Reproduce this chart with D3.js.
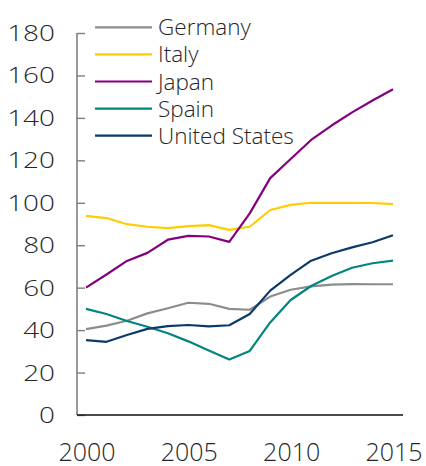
<!DOCTYPE html>
<html>
<head>
<meta charset="utf-8">
<script src="https://cdn.jsdelivr.net/npm/d3@7"></script>
<style>
  body { margin: 0; background: #fff; }
  text { font-family: "Open Sans", sans-serif; font-weight: 300; fill: #262626; }
</style>
</head>
<body>
<div id="chart"></div>
<script>
// data
var years = d3.range(2000, 2016);
var countries = ["Germany", "Italy", "Japan", "Spain", "United States"];
var colors = ["#8c8c8c", "#ffcc00", "#84007f", "#00857f", "#0a3a6a"];

var germany = [40.5, 42.1, 44.4, 47.9, 50.3, 52.9, 52.4, 50.0, 49.6, 55.8, 59.0, 60.6, 61.4, 61.7, 61.6, 61.6];
var italy   = [93.8, 92.8, 89.9, 88.7, 88.1, 89.0, 89.5, 87.2, 88.7, 96.6, 99.0, 100.0, 100.0, 100.0, 99.9, 99.4];
var japan   = [60.0, 66.2, 72.6, 76.4, 82.6, 84.4, 84.1, 81.6, 95.0, 111.6, 120.6, 129.6, 136.4, 142.6, 148.2, 153.5];
var spain   = [50.0, 47.6, 44.3, 41.6, 38.5, 34.7, 30.4, 26.2, 30.2, 43.6, 54.2, 60.8, 65.5, 69.4, 71.5, 72.7];
var usa     = [35.3, 34.5, 37.7, 40.6, 41.9, 42.4, 41.8, 42.3, 47.6, 58.6, 66.0, 72.7, 76.2, 79.0, 81.4, 84.7];

var yTicks = [0, 20, 40, 60, 80, 100, 120, 140, 160, 180];
var xTicks = [2000, 2005, 2010, 2015];

var series = [germany, italy, japan, spain, usa];

var width = 426, height = 466;

var svg = d3.select("#chart").append("svg")
    .attr("width", width)
    .attr("height", height);

var x = d3.scaleLinear().domain([2000, 2015]).range([86, 393]);
var y = d3.scaleLinear().domain([0, 180]).range([415, 33]);

// y axis: gray line with inward ticks
var yAxis = svg.append("g")
    .attr("transform", "translate(77,0)")
    .call(d3.axisRight(y).tickValues(yTicks).tickSize(8).tickFormat(""));
yAxis.select(".domain").attr("d", "M0," + y(180) + "V" + y(0)).attr("stroke", "#7f7f7f").attr("stroke-width", 1.6);
yAxis.selectAll(".tick line").attr("stroke", "#7f7f7f").attr("stroke-width", 1.4);

// y labels (stretched wide like the reference)
svg.append("g").selectAll("g")
    .data(yTicks)
    .enter().append("g")
    .attr("transform", d => "translate(55," + (y(d) + 8) + ") scale(1.27,1)")
    .append("text")
    .attr("text-anchor", "end")
    .style("font-size", "22px")
    .text(d => d);

// x axis: black baseline, no ticks
svg.append("line")
    .attr("x1", 77).attr("x2", 403)
    .attr("y1", y(0)).attr("y2", y(0))
    .attr("stroke", "#111").attr("stroke-width", 1.3);

svg.append("g").selectAll("text")
    .data(xTicks)
    .enter().append("text")
    .attr("x", d => x(d) + 1)
    .attr("y", 461)
    .attr("text-anchor", "middle")
    .style("font-size", "25px")
    .text(d => d);

// lines
var line = d3.line()
    .x((d, i) => x(years[i]))
    .y(d => y(d));

svg.append("g").selectAll("path")
    .data(series)
    .enter().append("path")
    .attr("d", d => line(d))
    .attr("fill", "none")
    .attr("stroke", (d, i) => colors[i])
    .attr("stroke-width", 2.2)
    .attr("stroke-linejoin", "round");

// legend
var legend = svg.append("g").selectAll("g")
    .data(countries)
    .enter().append("g")
    .attr("transform", (d, i) => "translate(95," + (27.3 + i * 27.1) + ")");

legend.append("line")
    .attr("x1", 0).attr("x2", 57)
    .attr("stroke", (d, i) => colors[i])
    .attr("stroke-width", 2.2);

legend.append("text")
    .attr("x", 63)
    .attr("y", 8)
    .style("font-size", "22.5px")
    .text(d => d);
</script>
</body>
</html>
